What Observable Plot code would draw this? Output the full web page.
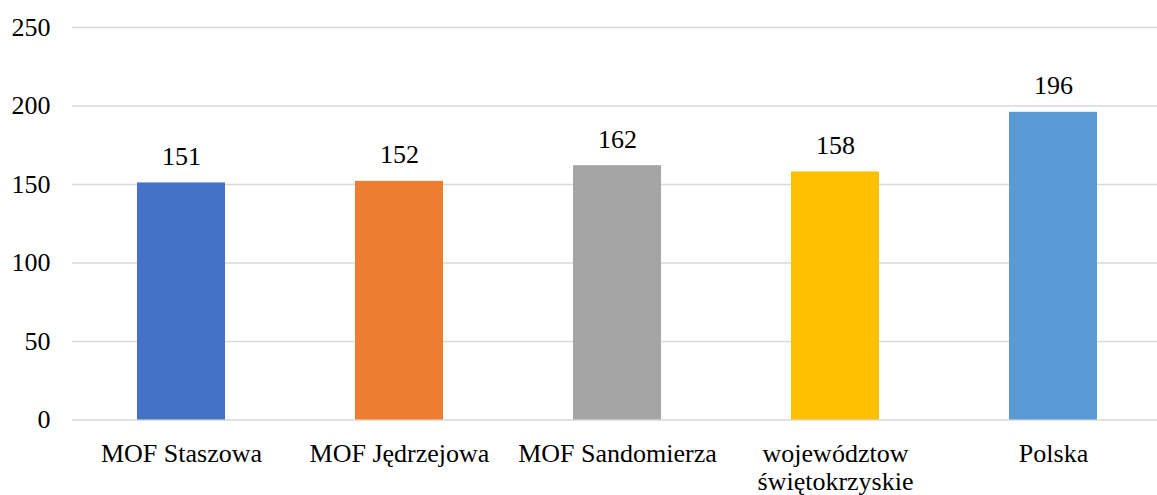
<!DOCTYPE html>
<html>
<head>
<meta charset="utf-8">
<script src="https://cdn.jsdelivr.net/npm/d3@7"></script>
<script src="https://cdn.jsdelivr.net/npm/@observablehq/plot@0.6"></script>
<style>
  html, body { margin: 0; padding: 0; background: #fff; }
  #chart svg, #chart svg text { font-family: "Times New Roman", "Liberation Serif", "DejaVu Serif", serif !important; }
</style>
</head>
<body>
<div id="chart"></div>
<script>
const categories = ["MOF Staszowa", "MOF Jędrzejowa", "MOF Sandomierza", "województow świętokrzyskie", "Polska"];
const tickLabels = ["MOF Staszowa", "MOF Jędrzejowa", "MOF Sandomierza", "województow\nświętokrzyskie", "Polska"];
const values = [151, 152, 162, 158, 196];
const colors = ["#4472C4", "#ED7D31", "#A5A5A5", "#FFC000", "#5B9BD5"];
const yTicks = [0, 50, 100, 150, 200, 250];

const data = categories.map((c, i) => ({category: c, value: values[i], color: colors[i]}));
const labelOf = new Map(categories.map((c, i) => [c, tickLabels[i]]));
const FONT = "'Times New Roman', 'Liberation Serif', 'DejaVu Serif', serif";

const chart = Plot.plot({
  width: 1157,
  height: 495,
  marginTop: 27,
  marginBottom: 75.5,
  marginLeft: 72,
  marginRight: 0,
  style: {fontFamily: FONT, fontSize: "26px", color: "#000", background: "#fff"},
  x: {domain: categories, range: [72, 1162], paddingInner: 0.595, paddingOuter: 0.2975, label: null},
  y: {domain: [0, 250], ticks: yTicks, label: null},
  marks: [
    Plot.ruleY(yTicks, {stroke: "#d9d9d9", strokeWidth: 1.3}),
    Plot.barY(data, {x: "category", y: "value", fill: "color"}),
    Plot.text(data, {x: "category", y: "value", text: d => String(d.value), dy: -18, lineAnchor: "bottom", fill: "#000", fontSize: 26}),
    Plot.axisY({ticks: yTicks, tickSize: 0, tickPadding: 22, label: null, fontSize: 26, fill: "#000"}),
    Plot.axisX({tickSize: 0, tickPadding: 22, label: null, fontSize: 26, lineHeight: 1.08, tickFormat: d => labelOf.get(d), fill: "#000"})
  ]
});
document.getElementById("chart").appendChild(chart);
</script>
</body>
</html>
